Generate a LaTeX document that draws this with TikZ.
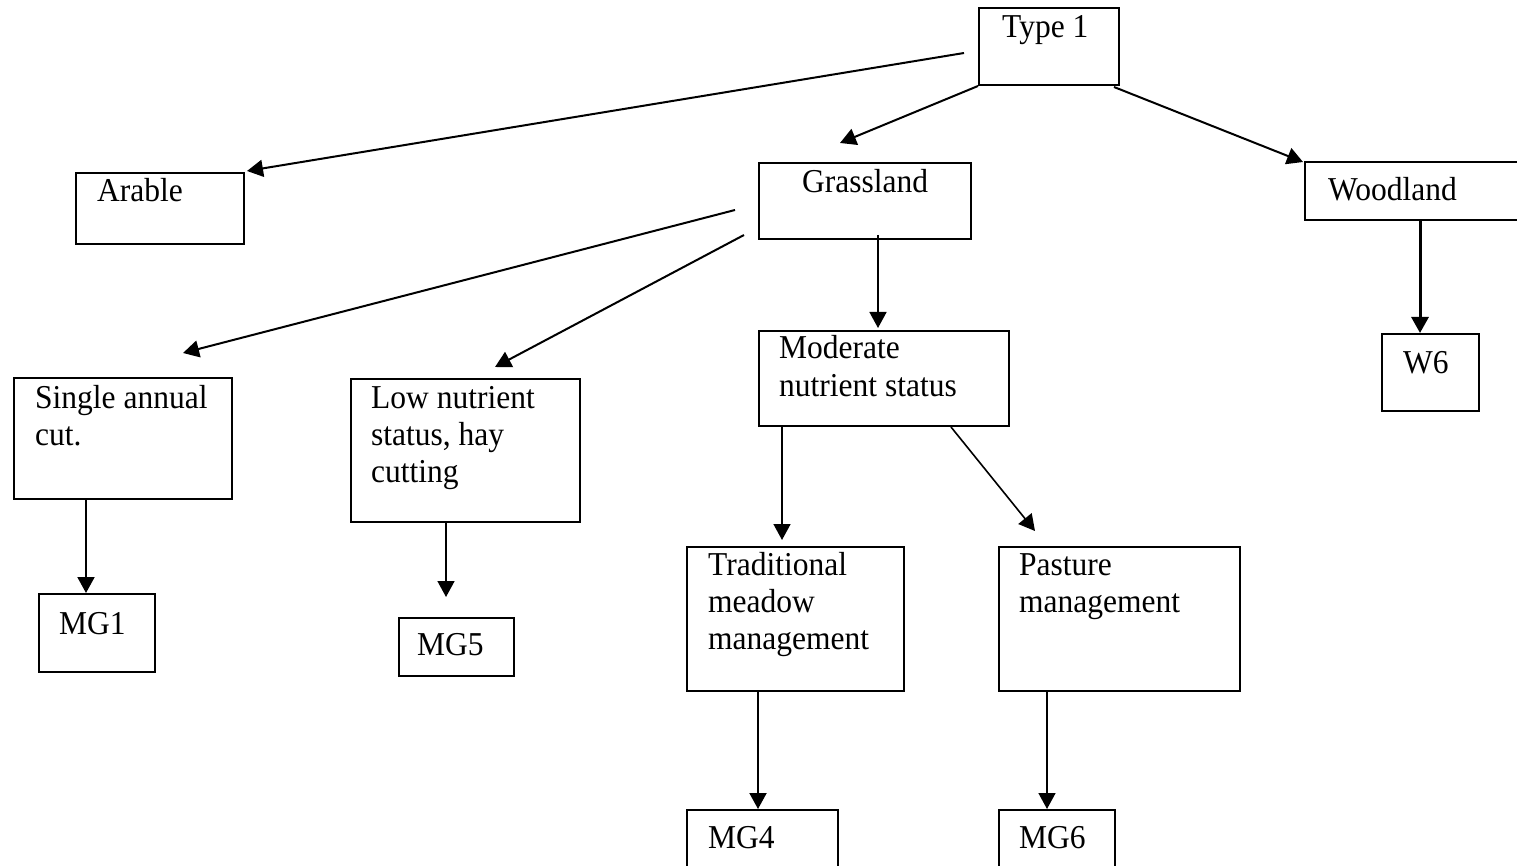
\documentclass[tikz,border=0pt]{standalone}
\usepackage{fontspec}
\setmainfont{Liberation Serif}
\usetikzlibrary{arrows.meta,calc}

\tikzset{
  frame/.style={draw, line width=2pt, inner sep=0pt, anchor=north west},
  txt/.style={anchor=base west, inner sep=0pt, font=\fontsize{31.5}{37}\selectfont},
  conn/.style={line width=2pt, -{Triangle[length=16pt,width=17pt]}},
  thinconn/.style={conn, line width=1.6pt},
  thickconn/.style={conn, line width=3pt},
}
\newcommand{\lines}[1]{\parbox[t]{300pt}{\raggedright #1}}
\newcommand{\tall}[1]{\scalebox{1}[1.06]{#1}}

\begin{document}
\begin{tikzpicture}[x=1pt, y=-1pt]
  \useasboundingbox (0,0) rectangle (1517,866);

  % boxes
  \node[frame, minimum width=140, minimum height=77]  (t1) at (978,7)    {};
  \node[frame, minimum width=168, minimum height=71]  (ar) at (75,172)   {};
  \node[frame, minimum width=212, minimum height=76]  (gr) at (758,162)  {};
  \node[frame, minimum width=225, minimum height=58]  (wd) at (1304,161) {};
  \node[frame, minimum width=97,  minimum height=77]  (w6) at (1381,333) {};
  \node[frame, minimum width=218, minimum height=121] (sa) at (13,377)   {};
  \node[frame, minimum width=229, minimum height=143] (ln) at (350,378)  {};
  \node[frame, minimum width=250, minimum height=95]  (md) at (758,330)  {};
  \node[frame, minimum width=116, minimum height=78]  (m1) at (38,593)   {};
  \node[frame, minimum width=115, minimum height=58]  (m5) at (398,617)  {};
  \node[frame, minimum width=217, minimum height=144] (tm) at (686,546)  {};
  \node[frame, minimum width=241, minimum height=144] (pm) at (998,546)  {};
  \node[frame, minimum width=151, minimum height=70]  (m4) at (686,809)  {};
  \node[frame, minimum width=116, minimum height=70]  (m6) at (998,809)  {};

  % labels
  \node[txt] (t1-t) at (1002,38)  {\tall{Type 1}};
  \node[txt] (ar-t) at (97,202)   {\tall{Arable}};
  \node[txt] (gr-t) at (802,193)  {\tall{Grassland}};
  \node[txt] (wd-t) at (1328,201) {\tall{Woodland}};
  \node[txt] (w6-t) at (1403,373) {\tall{W6}};
  \node[txt] (sa-t) at (35,408)   {\lines{\tall{Single annual}\\\tall{cut.}}};
  \node[txt] (ln-t) at (371,408)  {\lines{\tall{Low nutrient}\\\tall{status, hay}\\\tall{cutting}}};
  \node[txt] (md-t) at (779,358)  {\lines{\tall{Moderate}\\[1pt]\tall{nutrient status}}};
  \node[txt] (m1-t) at (59,634)   {\tall{MG1}};
  \node[txt] (m5-t) at (417,655)  {\tall{MG5}};
  \node[txt] (tm-t) at (708,575)  {\lines{\tall{Traditional}\\\tall{meadow}\\\tall{management}}};
  \node[txt] (pm-t) at (1019,575) {\lines{\tall{Pasture}\\\tall{management}}};
  \node[txt] (m4-t) at (708,848)  {\tall{MG4}};
  \node[txt] (m6-t) at (1019,848) {\tall{MG6}};

  % connectors
  \draw[conn] ($(t1.west)+(-14,6.5)$) -- ($(ar.north east)+(2,-1)$);
  \draw[conn] (t1.south west) -- ($(gr.north west)+(82,-19)$);
  \draw[conn] ($(t1.south east)+(-6,1)$) -- ($(wd.north west)+(-1,1)$);
  \draw[thickconn] ($(wd.south west)+(116,0)$) -- ($(w6.north west)+(39,0)$);

  \draw[conn] ($(gr.west)+(-23,9)$) -- ($(sa.north west)+(170,-24)$);
  \draw[conn] ($(gr.south west)+(-14,-5)$) -- ($(ln.north west)+(145,-11)$);
  \draw[thinconn] ($(gr.south west)+(120,-5)$) -- ($(md.north west)+(120,-2)$);

  \draw[thinconn] ($(md.south west)+(24,0)$) -- ($(tm.north west)+(96,-6)$);
  \draw[thinconn] ($(md.south west)+(193,0)$) -- ($(pm.north west)+(37,-15)$);

  \draw[conn] ($(sa.south west)+(73,0)$) -- ($(m1.north west)+(48,0)$);
  \draw[thinconn] ($(ln.south west)+(96,0)$) -- ($(m5.north west)+(48,-20)$);
  \draw[conn] ($(tm.south west)+(72,0)$) -- ($(m4.north west)+(72,0)$);
  \draw[thinconn] ($(pm.south west)+(49,0)$) -- ($(m6.north west)+(49,0)$);
\end{tikzpicture}
\end{document}
